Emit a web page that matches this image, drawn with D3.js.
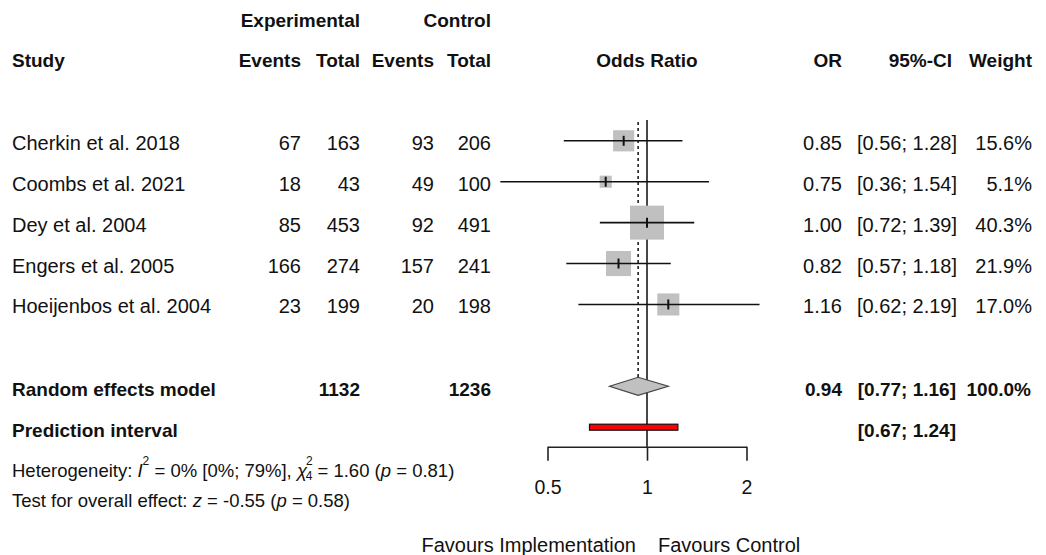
<!DOCTYPE html>
<html>
<head>
<meta charset="utf-8">
<script src="https://cdn.jsdelivr.net/npm/d3@7"></script>
<style>
  body { margin:0; background:#fff; }
  svg text { font-family:"Liberation Sans", Arial, sans-serif; fill:#111; }
  .b { font-weight:bold; }
</style>
</head>
<body>
<div id="chart"></div>
<script>
var width=1046;
var height=555;

// study table
var studies=["Cherkin et al. 2018","Coombs et al. 2021","Dey et al. 2004","Engers et al. 2005","Hoeijenbos et al. 2004"];
var expEvents=[67,18,85,166,23];
var expTotal=[163,43,453,274,199];
var ctlEvents=[93,49,92,157,20];
var ctlTotal=[206,100,491,241,198];
var orVals=[0.85,0.75,1.00,0.82,1.16];
var ciLow=[0.56,0.36,0.72,0.57,0.62];
var ciHigh=[1.28,1.54,1.39,1.18,2.19];
var weights=[15.6,5.1,40.3,21.9,17.0];

// pooled results
var pooledOR=0.94;
var pooledLow=0.77;
var pooledHigh=1.16;
var pooledWeight=100.0;
var expSum=1132;
var ctlSum=1236;
var predLow=0.67;
var predHigh=1.24;

var tickVals=[0.5,1,2];

var svg=d3.select('#chart').append('svg')
  .attr('width',width).attr('height',height);

var x=d3.scaleLog().domain([0.5,2]).range([547.5,746.5]);
// row index -> y of row centre
var y=d3.scaleLinear().domain([0,7]).range([140.8,427.2]);
var box=d3.scaleSqrt().domain([0,d3.max(weights)]).range([0,34]);

function fmt(v){ return v.toFixed(2); }
function ci(lo,hi){ return "["+fmt(lo)+"; "+fmt(hi)+"]"; }

function txt(xx,yy,s,anchor,cls,size){
  return svg.append('text')
    .attr('x',xx).attr('y',yy)
    .attr('text-anchor',anchor||'start')
    .attr('class',cls||null)
    .style('font-size',(size||20)+'px')
    .text(s);
}

//---------------- headers ----------------
txt(360,y(-3)+8.5,"Experimental","end","b",19);
txt(491,y(-3)+8.5,"Control","end","b",19);
txt(12,y(-2)+8.5,"Study","start","b",19);
txt(301,y(-2)+8.5,"Events","end","b",19);
txt(360,y(-2)+8.5,"Total","end","b",19);
txt(434,y(-2)+8.5,"Events","end","b",19);
txt(491,y(-2)+8.5,"Total","end","b",19);
txt(x(1),y(-2)+8.5,"Odds Ratio","middle","b",19);
txt(842,y(-2)+8.5,"OR","end","b",19);
txt(952,y(-2)+8.5,"95%-CI","end","b",19);
txt(1032,y(-2)+8.5,"Weight","end","b",19);

//---------------- study rows ----------------
studies.forEach(function(s,i){
  var yy=y(i)+9;
  txt(12,yy,s);
  txt(301,yy,expEvents[i],"end");
  txt(360,yy,expTotal[i],"end");
  txt(434,yy,ctlEvents[i],"end");
  txt(491,yy,ctlTotal[i],"end");
  txt(842,yy,fmt(orVals[i]),"end");
  txt(957,yy,ci(ciLow[i],ciHigh[i]),"end");
  txt(1032,yy,weights[i].toFixed(1)+"%","end");
});

//summary rows
txt(12,y(6)+9.5,"Random effects model","start","b",19);
txt(360,y(6)+9.5,expSum,"end","b",19);
txt(491,y(6)+9.5,ctlSum,"end","b",19);
txt(842,y(6)+9.5,fmt(pooledOR),"end","b",19);
txt(956,y(6)+9.5,ci(pooledLow,pooledHigh),"end","b",19);
txt(1031,y(6)+9.5,pooledWeight.toFixed(1)+"%","end","b",19);
txt(12,y(7)+9.5,"Prediction interval","start","b",19);
txt(956,y(7)+9.5,ci(predLow,predHigh),"end","b",19);

//---------------- plot area ----------------
// line of no effect
svg.append('line')
  .attr('x1',x(1)).attr('x2',x(1))
  .attr('y1',120).attr('y2',446.7)
  .attr('stroke','#333').attr('stroke-width',1.8);

// pooled estimate dotted line
svg.append('line')
  .attr('x1',x(pooledOR)).attr('x2',x(pooledOR))
  .attr('y1',122).attr('y2',y(6)-9)
  .attr('stroke','#111').attr('stroke-width',1.5)
  .attr('stroke-dasharray','3,3');

var rows=svg.append('g').selectAll('g').data(studies).enter().append('g');

rows.append('rect')
  .attr('x',function(d,i){ return x(orVals[i])-box(weights[i])/2; })
  .attr('y',function(d,i){ return y(i)-box(weights[i])/2; })
  .attr('width',function(d,i){ return box(weights[i]); })
  .attr('height',function(d,i){ return box(weights[i]); })
  .attr('fill','#c0c0c0');

rows.append('line')
  .attr('x1',function(d,i){ return x(ciLow[i]); })
  .attr('x2',function(d,i){ return x(ciHigh[i]); })
  .attr('y1',function(d,i){ return y(i); })
  .attr('y2',function(d,i){ return y(i); })
  .attr('stroke','#111').attr('stroke-width',1.6);

rows.append('line')
  .attr('x1',function(d,i){ return x(orVals[i]); })
  .attr('x2',function(d,i){ return x(orVals[i]); })
  .attr('y1',function(d,i){ return y(i)-5; })
  .attr('y2',function(d,i){ return y(i)+5; })
  .attr('stroke','#111').attr('stroke-width',2);

// diamond
var dy=y(6);
svg.append('path')
  .attr('d',"M"+x(pooledLow)+","+dy+"L"+x(pooledOR)+","+(dy-9)+"L"+x(pooledHigh)+","+dy+"L"+x(pooledOR)+","+(dy+9)+"Z")
  .attr('fill','#c0c0c0').attr('stroke','#444').attr('stroke-width',1.2);

// prediction interval
svg.append('rect')
  .attr('x',x(predLow)).attr('y',y(7)-3)
  .attr('width',x(predHigh)-x(predLow)).attr('height',6)
  .attr('fill','#ff0000').attr('stroke','#111').attr('stroke-width',1.2);

// axis
var axis=d3.axisBottom(x).tickValues(tickVals).tickFormat(d3.format(""))
  .tickSize(14).tickSizeOuter(0).tickPadding(19);
var ag=svg.append('g').attr('transform','translate(0,446.7)').call(axis);
ag.select('.domain').attr('stroke','#222').attr('stroke-width',1.6);
ag.selectAll('.tick line').attr('stroke','#222').attr('stroke-width',1.6);
ag.selectAll('.tick text')
  .style('font-family','"Liberation Sans", Arial, sans-serif')
  .style('font-size','19.5px').attr('fill','#111');

txt(x(1)-11,551.5,"Favours Implementation","end",null,20);
txt(x(1)+11,551.5,"Favours Control","start",null,20);

//---------------- heterogeneity ----------------
var het=svg.append('text').attr('x',12).attr('y',477.3).style('font-size','18.5px');
het.append('tspan').text("Heterogeneity: ");
het.append('tspan').attr('font-style','italic').text("I");
het.append('tspan').attr('dy',-12).style('font-size','12px').text("2");
het.append('tspan').attr('dy',12).text(" = 0% [0%; 79%], ");
het.append('tspan').attr('font-style','italic').text("\u03C7");
het.append('tspan').attr('dy',-12).attr('dx',-1).style('font-size','12px').text("2");
het.append('tspan').attr('dy',15).attr('dx',-7).style('font-size','12px').text("4");
het.append('tspan').attr('dy',-3).text(" = 1.60 (");
het.append('tspan').attr('font-style','italic').text("p");
het.append('tspan').text(" = 0.81)");

var test=svg.append('text').attr('x',12).attr('y',506.7).style('font-size','18.5px');
test.append('tspan').text("Test for overall effect: ");
test.append('tspan').attr('font-style','italic').text("z");
test.append('tspan').text(" = -0.55 (");
test.append('tspan').attr('font-style','italic').text("p");
test.append('tspan').text(" = 0.58)");
</script>
</body>
</html>
